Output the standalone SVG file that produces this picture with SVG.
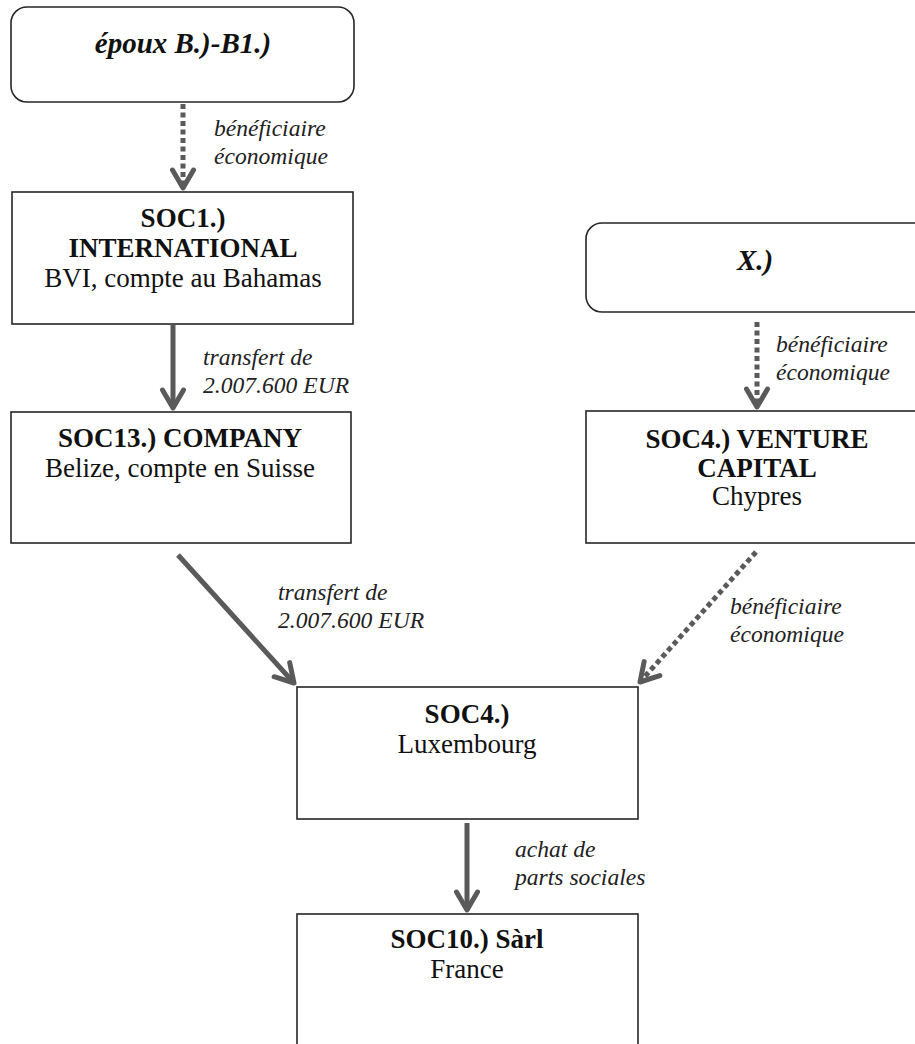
<svg xmlns="http://www.w3.org/2000/svg" width="915" height="1044" viewBox="0 0 915 1044">
<style>
.box{fill:#fff;stroke:#262626;stroke-width:1.6}
.t{font-family:"Liberation Serif","Times New Roman",serif;font-size:27px;fill:#111;text-anchor:middle}
.b{font-weight:bold}
.bi{font-weight:bold;font-style:italic;font-size:29px}
.lab{font-family:"Liberation Serif","Times New Roman",serif;font-size:23.6px;font-style:italic;fill:#222}
.conn{fill:none;stroke:#5a5a5a;stroke-width:5}
.dot{stroke-dasharray:5 3.5}
</style>
<defs>
<marker id="arr" viewBox="-24 -14 28 28" markerWidth="28" markerHeight="28" refX="0" refY="0" orient="auto" markerUnits="userSpaceOnUse">
<path d="M-18,-10.5 L0,0 L-18,10.5" fill="none" stroke="#5a5a5a" stroke-width="5" stroke-linecap="round" stroke-linejoin="round"/>
</marker>
</defs>

<g id="connectors">
<line class="conn dot" x1="183" y1="104" x2="183" y2="188" marker-end="url(#arr)"/>
<line class="conn" x1="173" y1="325" x2="173" y2="408" marker-end="url(#arr)"/>
<line class="conn" x1="178" y1="555" x2="294" y2="683" marker-end="url(#arr)"/>
<line class="conn dot" x1="757" y1="322" x2="757" y2="407" marker-end="url(#arr)"/>
<line class="conn dot" x1="756" y1="552" x2="640" y2="682" marker-end="url(#arr)"/>
<line class="conn" x1="467" y1="823" x2="467" y2="910" marker-end="url(#arr)"/>
<text class="lab" x="214" y="136">bénéficiaire</text>
<text class="lab" x="214" y="164">économique</text>
<text class="lab" x="203" y="365">transfert de</text>
<text class="lab" x="203" y="393">2.007.600 EUR</text>
<text class="lab" x="776" y="352">bénéficiaire</text>
<text class="lab" x="776" y="380">économique</text>
<text class="lab" x="278" y="600">transfert de</text>
<text class="lab" x="278" y="628">2.007.600 EUR</text>
<text class="lab" x="730" y="614">bénéficiaire</text>
<text class="lab" x="730" y="642">économique</text>
<text class="lab" x="515" y="857">achat de</text>
<text class="lab" x="515" y="885">parts sociales</text>
</g>

<g id="epoux">
<rect class="box" x="11" y="7" width="343" height="95" rx="16"/>
<text class="t bi" x="183" y="53">époux B.)-B1.)</text>
</g>

<g id="soc1">
<rect class="box" x="12" y="192" width="341" height="132"/>
<text class="t b" x="183" y="227">SOC1.)</text>
<text class="t b" x="183" y="257">INTERNATIONAL</text>
<text class="t" x="183" y="287">BVI, compte au Bahamas</text>
</g>

<g id="soc13">
<rect class="box" x="11" y="412" width="340" height="131"/>
<text class="t b" x="180" y="447">SOC13.) COMPANY</text>
<text class="t" x="180" y="477">Belize, compte en Suisse</text>
</g>

<g id="x">
<rect class="box" x="586" y="223" width="345" height="89" rx="16"/>
<text class="t bi" x="755" y="270">X.)</text>
</g>

<g id="soc4vc">
<rect class="box" x="586" y="411" width="345" height="132"/>
<text class="t b" x="757" y="448">SOC4.) VENTURE</text>
<text class="t b" x="757" y="477">CAPITAL</text>
<text class="t" x="757" y="505">Chypres</text>
</g>

<g id="soc4lux">
<rect class="box" x="297" y="687" width="341" height="132"/>
<text class="t b" x="467" y="723">SOC4.)</text>
<text class="t" x="467" y="753">Luxembourg</text>
</g>

<g id="soc10">
<rect class="box" x="297" y="914" width="341" height="140"/>
<text class="t b" x="467" y="948">SOC10.) Sàrl</text>
<text class="t" x="467" y="978">France</text>
</g>
</svg>
